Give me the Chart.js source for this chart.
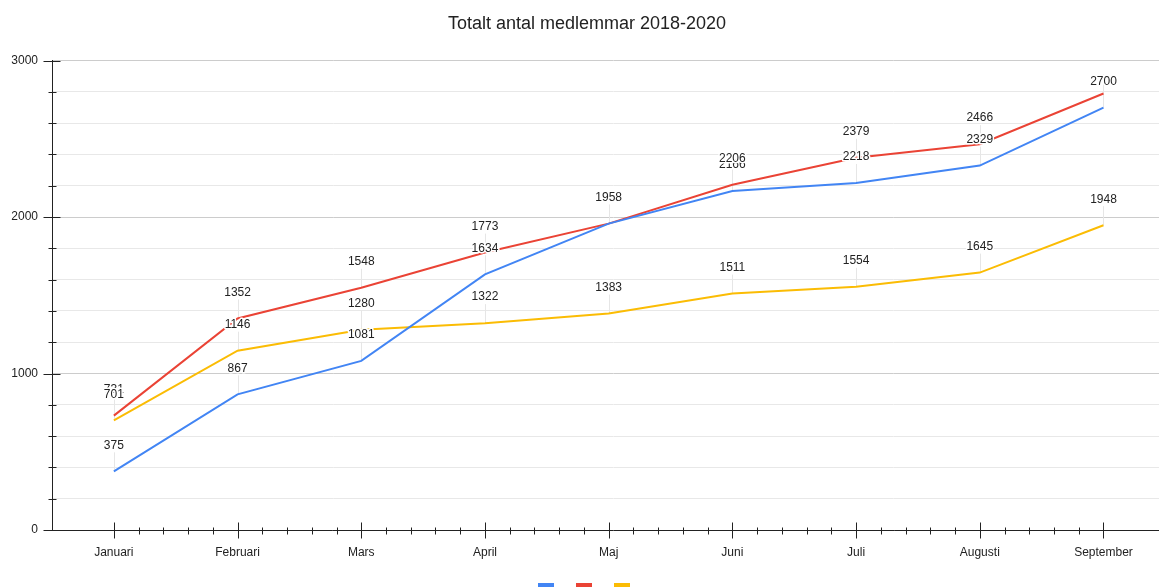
<html>
    <head>
        <title>Totalt antal medlemmar</title>
        <script src="https://cdn.jsdelivr.net/npm/chart.js@4.4.0/dist/chart.umd.min.js"></script> <!-- Chart.js library -->
        <style>
            body { margin: 0; overflow: hidden; background: #fff; }
        </style>
    </head>

    <body>
        <canvas id="members-chart" width="1174" height="605"></canvas>

        <script>
            // Months on the x axis
            const months = ['Januari', 'Februari', 'Mars', 'April', 'Maj', 'Juni', 'Juli', 'Augusti', 'September'];

            // Total members per month, one array per year
            const members2018 = [375, 867, 1081, 1634, 1958, 2166, 2218, 2329, 2700];
            const members2019 = [731, 1352, 1548, 1773, 1958, 2206, 2379, 2466, 2790];
            const members2020 = [701, 1146, 1280, 1322, 1383, 1511, 1554, 1645, 1948];

            // Y axis: gridline every 200, label every 1000
            const yMax = 3000;
            const yStep = 200;
            const yLabelStep = 1000;

            // value labels that are left out: [dataset, month]
            const skipLabels = [[1, 8]];

            const font = 'Liberation Sans, Arial, sans-serif';
            const axisColor = '#222';

            const toPoints = arr => arr.map((v, i) => ({ x: i, y: v }));

            // faint line from each value label down to its point
            const leaderLines = {
                id: 'leaderLines',
                beforeDatasetsDraw(chart) {
                    const ctx = chart.ctx;
                    ctx.save();
                    ctx.strokeStyle = '#e6e6e6';
                    ctx.lineWidth = 1;
                    chart.data.datasets.forEach((ds, d) => {
                        chart.getDatasetMeta(d).data.forEach(pt => {
                            const x = Math.round(pt.x) + 0.5;
                            ctx.beginPath();
                            ctx.moveTo(x, pt.y - 19);
                            ctx.lineTo(x, pt.y);
                            ctx.stroke();
                        });
                    });
                    ctx.restore();
                }
            };

            // value labels above the points, with a white halo
            const valueLabels = {
                id: 'valueLabels',
                afterDatasetsDraw(chart) {
                    const ctx = chart.ctx;
                    ctx.save();
                    ctx.font = '12px ' + font;
                    ctx.textAlign = 'center';
                    ctx.textBaseline = 'middle';
                    ctx.lineJoin = 'round';
                    chart.data.datasets.forEach((ds, d) => {
                        chart.getDatasetMeta(d).data.forEach((pt, i) => {
                            if (skipLabels.some(s => s[0] === d && s[1] === i)) return;
                            const text = String(ds.data[i].y);
                            ctx.strokeStyle = '#fff';
                            ctx.lineWidth = 3;
                            ctx.strokeText(text, pt.x, pt.y - 26);
                            ctx.fillStyle = '#222';
                            ctx.fillText(text, pt.x, pt.y - 26);
                        });
                    });
                    ctx.restore();
                }
            };

            // tick marks crossing both axes
            const axisTicks = {
                id: 'axisTicks',
                afterDraw(chart) {
                    const ctx = chart.ctx;
                    const xs = chart.scales.x;
                    const ys = chart.scales.y;
                    const axisY = Math.round(ys.getPixelForValue(0)) + 0.5;
                    const axisX = Math.round(xs.left) + 0.5;
                    ctx.save();
                    ctx.strokeStyle = axisColor;
                    ctx.lineWidth = 1;
                    ctx.beginPath();
                    for (let v = 0; v <= yMax; v += yStep) {
                        const y = Math.round(ys.getPixelForValue(v)) + 0.5;
                        const major = v % yLabelStep === 0;
                        ctx.moveTo(major ? axisX - 9 : axisX - 4, y);
                        ctx.lineTo(major ? axisX + 8 : axisX + 4, y);
                    }
                    months.forEach((m, i) => {
                        const x = Math.round(xs.getPixelForValue(i)) + 0.5;
                        ctx.moveTo(x, axisY - 8);
                        ctx.lineTo(x, axisY + 8);
                        if (i < months.length - 1) {
                            for (let k = 1; k < 5; k++) {
                                const xm = Math.round(xs.getPixelForValue(i + k / 5)) + 0.5;
                                ctx.moveTo(xm, axisY - 3);
                                ctx.lineTo(xm, axisY + 4);
                            }
                        }
                    });
                    ctx.stroke();
                    ctx.restore();
                }
            };

            const ctx = document.getElementById('members-chart').getContext('2d');

            new Chart(ctx, {
                type: 'line',
                data: {
                    datasets: [
                        { label: '', data: toPoints(members2018), borderColor: '#4285F4', backgroundColor: '#4285F4' },
                        { label: '', data: toPoints(members2019), borderColor: '#EA4335', backgroundColor: '#EA4335' },
                        { label: '', data: toPoints(members2020), borderColor: '#FBBC04', backgroundColor: '#FBBC04' }
                    ]
                },
                options: {
                    responsive: false,
                    animation: false,
                    layout: { padding: 0 },
                    elements: {
                        line: { borderWidth: 2, tension: 0 },
                        point: { radius: 0, hoverRadius: 0 }
                    },
                    plugins: {
                        title: {
                            display: true,
                            text: 'Totalt antal medlemmar 2018-2020',
                            color: '#222',
                            font: { family: font, size: 18, weight: 'normal' },
                            padding: { top: 13, bottom: 26 }
                        },
                        legend: {
                            position: 'bottom',
                            labels: {
                                boxWidth: 14,
                                boxHeight: 10,
                                padding: 18,
                                font: { family: font, size: 12 }
                            }
                        },
                        tooltip: { enabled: false }
                    },
                    scales: {
                        x: {
                            type: 'linear',
                            min: -0.5,
                            max: 8.57,
                            afterBuildTicks: scale => {
                                scale.ticks = months.map((m, i) => ({ value: i }));
                            },
                            afterFit: scale => { scale.height = 35; },
                            grid: { display: false, drawTicks: false },
                            border: { display: true, color: axisColor, width: 1 },
                            ticks: {
                                padding: 15,
                                color: '#222',
                                font: { family: font, size: 12 },
                                maxRotation: 0,
                                callback: value => months[value]
                            }
                        },
                        y: {
                            min: 0,
                            max: yMax,
                            afterFit: scale => { scale.width = 52; },
                            grid: {
                                drawTicks: false,
                                color: c => c.tick.value % yLabelStep === 0 ? '#cccccc' : '#e8e8e8'
                            },
                            border: { display: true, color: axisColor, width: 1 },
                            ticks: {
                                stepSize: yStep,
                                padding: 14,
                                color: '#222',
                                font: { family: font, size: 12 },
                                callback: value => value % yLabelStep === 0 ? value : ''
                            }
                        }
                    }
                },
                plugins: [leaderLines, valueLabels, axisTicks]
            });
        </script>
    </body>
</html>
